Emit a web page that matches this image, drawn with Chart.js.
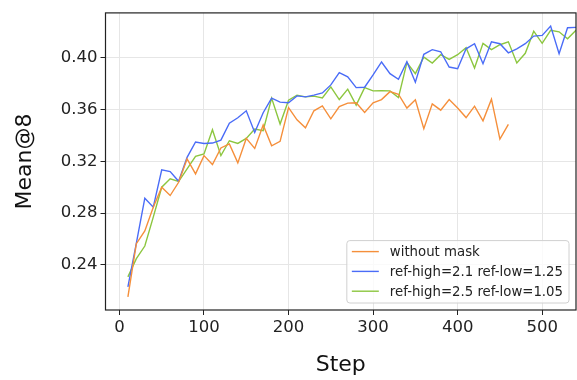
<!DOCTYPE html>
<html>
<head>
<meta charset="utf-8">
<script src="https://cdn.jsdelivr.net/npm/chart.js@4.4.1/dist/chart.umd.min.js"></script>
<style>
  html, body { margin: 0; padding: 0; background: #fff; }
  #wrap { width: 577px; height: 380px; }
</style>
</head>
<body>
<div id="wrap"><canvas id="meanChart" width="577" height="380"></canvas></div>
<script>
// Training steps (every 10 steps)
const steps = [10, 20, 30, 40, 50, 60, 70, 80, 90, 100,
    110, 120, 130, 140, 150, 160, 170, 180, 190, 200,
    210, 220, 230, 240, 250, 260, 270, 280, 290, 300,
    310, 320, 330, 340, 350, 360, 370, 380, 390, 400,
    410, 420, 430, 440, 450, 460, 470, 480, 490, 500,
    510, 520, 530, 540];

// Mean@8 per run
const withoutMask = [0.2154, 0.2564, 0.2662, 0.2846, 0.3000, 0.2936, 0.3038, 0.3218, 0.3103, 0.3244,
    0.3175, 0.3303, 0.3334, 0.3188, 0.3377, 0.3300, 0.3480, 0.3320, 0.3354, 0.3615,
    0.3520, 0.3459, 0.3590, 0.3628, 0.3528, 0.3623, 0.3649, 0.3652, 0.3577, 0.3652,
    0.3677, 0.3738, 0.3718, 0.3611, 0.3675, 0.3452, 0.3644, 0.3595, 0.3677, 0.3611,
    0.3538, 0.3626, 0.3513, 0.3680, 0.3372, 0.3485];

const refHigh21 = [0.2231, 0.2569, 0.2915, 0.2846, 0.3134, 0.3121, 0.3046, 0.3231, 0.3349, 0.3338,
    0.3341, 0.3364, 0.3495, 0.3536, 0.3590, 0.3423, 0.3575, 0.3688, 0.3657, 0.3652,
    0.3705, 0.3698, 0.3711, 0.3728, 0.3790, 0.3885, 0.3852, 0.3769, 0.3772, 0.3867,
    0.3967, 0.3877, 0.3834, 0.3969, 0.3811, 0.4026, 0.4062, 0.4046, 0.3928, 0.3915,
    0.4069, 0.4108, 0.3954, 0.4123, 0.4108, 0.4038, 0.4069, 0.4108, 0.4167, 0.4172,
    0.4244, 0.4031, 0.4231, 0.4234];

const refHigh25 = [0.2308, 0.2449, 0.2546, 0.2769, 0.3000, 0.3065, 0.3044, 0.3142, 0.3238, 0.3257,
    0.3444, 0.3244, 0.3359, 0.3338, 0.3377, 0.3449, 0.3436, 0.3688, 0.3488, 0.3672,
    0.3711, 0.3698, 0.3703, 0.3690, 0.3775, 0.3677, 0.3757, 0.3634, 0.3769, 0.3744,
    0.3746, 0.3744, 0.3692, 0.3962, 0.3877, 0.4005, 0.3959, 0.4023, 0.3987, 0.4023,
    0.4077, 0.3921, 0.4111, 0.4062, 0.4100, 0.4123, 0.3959, 0.4034, 0.4205, 0.4111,
    0.4211, 0.4200, 0.4146, 0.4213];

const seriesLabels = ['without mask', 'ref-high=2.1 ref-low=1.25', 'ref-high=2.5 ref-low=1.05'];
const xTicks = [0, 100, 200, 300, 400, 500];
const yTicks = [0.24, 0.28, 0.32, 0.36, 0.40];

function toPoints(values) {
    return values.map((v, i) => ({ x: steps[i], y: v }));
}

const FONT = 'DejaVu Sans';

// Black frame round the plot area
const frame = {
    id: 'frame',
    afterDatasetsDraw(chart) {
        const a = chart.chartArea;
        const ctx = chart.ctx;
        ctx.save();
        ctx.strokeStyle = '#222';
        ctx.lineWidth = 1.2;
        ctx.strokeRect(a.left, a.top, a.right - a.left, a.bottom - a.top);
        ctx.restore();
    }
};

// Legend box in the lower right corner of the plot
const boxLegend = {
    id: 'boxLegend',
    afterDraw(chart) {
        const a = chart.chartArea;
        const ctx = chart.ctx;
        const sets = chart.data.datasets;
        ctx.save();
        ctx.font = '13.3px "' + FONT + '"';
        let textW = 0;
        sets.forEach(ds => { textW = Math.max(textW, ctx.measureText(ds.label).width); });
        const rowH = 19.8;
        const w = 5 + 27 + 11 + textW + 6;
        const h = rowH * sets.length + 3;
        const x = a.right - 7 - w;
        const y = a.bottom - 7 - h;

        ctx.beginPath();
        ctx.roundRect(x, y, w, h, 3);
        ctx.fillStyle = 'rgba(255,255,255,0.8)';
        ctx.fill();
        ctx.strokeStyle = '#d0d0d0';
        ctx.lineWidth = 1;
        ctx.stroke();

        sets.forEach((ds, i) => {
            const cy = y + 11 + i * rowH;
            ctx.beginPath();
            ctx.moveTo(x + 5, cy);
            ctx.lineTo(x + 32, cy);
            ctx.strokeStyle = ds.borderColor;
            ctx.lineWidth = 1.4;
            ctx.stroke();
            ctx.fillStyle = '#222';
            ctx.textBaseline = 'middle';
            ctx.fillText(ds.label, x + 43, cy + 1);
        });
        ctx.restore();
    }
};

const ctx = document.getElementById('meanChart').getContext('2d');
const meanChart = new Chart(ctx, {
    type: 'line',
    data: {
        datasets: [{
            label: seriesLabels[0],
            data: toPoints(withoutMask),
            borderColor: '#f58f3b',
            borderWidth: 1.4,
            pointRadius: 0,
            tension: 0
        }, {
            label: seriesLabels[1],
            data: toPoints(refHigh21),
            borderColor: '#4a6cf7',
            borderWidth: 1.4,
            pointRadius: 0,
            tension: 0
        }, {
            label: seriesLabels[2],
            data: toPoints(refHigh25),
            borderColor: '#8cc63f',
            borderWidth: 1.4,
            pointRadius: 0,
            tension: 0
        }]
    },
    options: {
        responsive: false,
        animation: false,
        devicePixelRatio: 1,
        layout: { padding: { top: 12, right: 1, left: 0, bottom: 0 } },
        plugins: {
            legend: { display: false },
            tooltip: { enabled: false }
        },
        scales: {
            x: {
                type: 'linear',
                min: -16.5,
                max: 540,
                afterBuildTicks: scale => { scale.ticks = xTicks.map(v => ({ value: v })); },
                afterFit: scale => { scale.height = 70; },
                grid: { color: '#e6e6e6', lineWidth: 1, tickColor: '#222', tickLength: 5, tickWidth: 1 },
                border: { display: false },
                ticks: { color: '#222', font: { family: FONT, size: 16.5 }, padding: 3, maxRotation: 0 },
                title: { display: true, text: 'Step', color: '#111', font: { family: FONT, size: 22 }, padding: { top: 0, bottom: 2 } }
            },
            y: {
                min: 0.2052,
                max: 0.4346,
                afterBuildTicks: scale => { scale.ticks = yTicks.map(v => ({ value: v })); },
                afterFit: scale => { scale.width = 105.5; },
                grid: { color: '#e6e6e6', lineWidth: 1, tickColor: '#222', tickLength: 5, tickWidth: 1 },
                border: { display: false },
                ticks: { color: '#222', font: { family: FONT, size: 16.5 }, padding: 3, callback: v => v.toFixed(2) },
                title: { display: true, text: 'Mean@8', color: '#111', font: { family: FONT, size: 22 }, padding: { top: 12, bottom: 0 } }
            }
        }
    },
    plugins: [frame, boxLegend]
});
</script>
</body>
</html>
